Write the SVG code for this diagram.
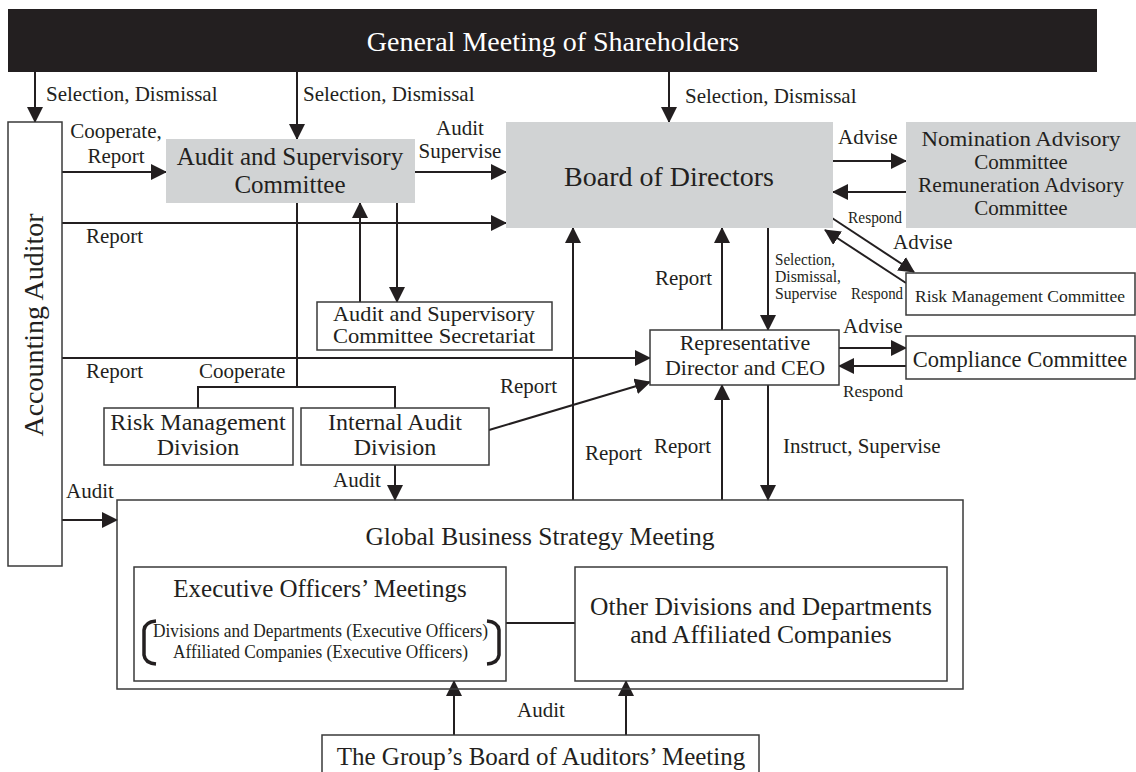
<svg xmlns="http://www.w3.org/2000/svg" width="1136" height="772" viewBox="0 0 1136 772">
<style>
text{font-family:"Liberation Serif","Times New Roman",serif;fill:#231f20}
.m{text-anchor:middle}
.box{fill:#fff;stroke:#3a3a3a;stroke-width:1.5}
.gray{fill:#d1d3d4}
.ln{stroke:#231f20;stroke-width:2;fill:none}
.a{marker-end:url(#ah)}
.l{font-size:21px}
.c{font-size:17px}
</style>
<defs>
<marker id="ah" viewBox="0 0 16 16" markerUnits="userSpaceOnUse" markerWidth="16" markerHeight="16" refX="15" refY="8" orient="auto">
<path d="M0,0 L16,8 L0,16 z" fill="#231f20"/>
</marker>
</defs>
<rect width="1136" height="772" fill="#fff"/>

<g id="connectors">
<path class="ln a" d="M35,72 V122"/>
<path class="ln a" d="M297,72 V139"/>
<path class="ln a" d="M669,72 V122"/>
<path class="ln a" d="M62,172 H166"/>
<path class="ln a" d="M415,172 H506"/>
<path class="ln a" d="M62,223 H506"/>
<path class="ln a" d="M833,161 H906"/>
<path class="ln a" d="M906,192 H833"/>
<path class="ln a" d="M832,218 L914,272"/>
<path class="ln a" d="M906,283 L825,230"/>
<path class="ln a" d="M768,228 V330"/>
<path class="ln a" d="M722,330 V228"/>
<path class="ln a" d="M573,500 V228"/>
<path class="ln a" d="M360,302 V203"/>
<path class="ln a" d="M397,203 V302"/>
<path class="ln a" d="M62,358 H650"/>
<path class="ln" d="M297,203 V387"/>
<path class="ln" d="M198,408 V387 H395 V408"/>
<path class="ln a" d="M489,430 L650,382"/>
<path class="ln a" d="M395,465 V500"/>
<path class="ln a" d="M62,520 H117"/>
<path class="ln a" d="M722,500 V385"/>
<path class="ln a" d="M768,385 V500"/>
<path class="ln a" d="M839,348 H906"/>
<path class="ln a" d="M906,366 H839"/>
<path class="ln" d="M506,623 H575"/>
<path class="ln a" d="M454,735 V681"/>
<path class="ln a" d="M626,735 V681"/>
</g>

<g id="labels">
<text class="l" x="46" y="101">Selection, Dismissal</text>
<text class="l" x="303" y="101">Selection, Dismissal</text>
<text class="l" x="685" y="103">Selection, Dismissal</text>
<text class="l m" x="116" y="138">Cooperate,</text>
<text class="l m" x="116" y="163">Report</text>
<text class="l m" x="460" y="135">Audit</text>
<text class="l m" x="460" y="158">Supervise</text>
<text class="l" x="86" y="243">Report</text>
<text class="l" x="838" y="144">Advise</text>
<text class="c" x="848" y="223" textLength="54" lengthAdjust="spacingAndGlyphs">Respond</text>
<text class="l" x="893" y="249">Advise</text>
<text class="c" x="775" y="265" textLength="60" lengthAdjust="spacingAndGlyphs">Selection,</text>
<text class="c" x="775" y="282" textLength="66" lengthAdjust="spacingAndGlyphs">Dismissal,</text>
<text class="c" x="775" y="299" textLength="62" lengthAdjust="spacingAndGlyphs">Supervise</text>
<text class="c" x="851" y="299" textLength="52" lengthAdjust="spacingAndGlyphs">Respond</text>
<text class="l" x="655" y="285">Report</text>
<text class="l" x="843" y="333">Advise</text>
<text class="c" x="843" y="397" textLength="60" lengthAdjust="spacingAndGlyphs">Respond</text>
<text class="l" x="86" y="378">Report</text>
<text class="l" x="199" y="378">Cooperate</text>
<text class="l" x="500" y="393">Report</text>
<text class="l" x="783" y="453">Instruct, Supervise</text>
<text class="l" x="654" y="453">Report</text>
<text class="l" x="585" y="460">Report</text>
<text class="l" x="333" y="487">Audit</text>
<text class="l" x="66" y="498">Audit</text>
<text class="l m" x="541" y="717">Audit</text>
</g>

<g id="shareholders">
<rect x="8" y="9" width="1089" height="63" fill="#231f20"/>
<text class="m" x="553" y="51" font-size="28" style="fill:#fff">General Meeting of Shareholders</text>
</g>

<g id="accounting-auditor">
<rect class="box" x="8" y="122" width="54" height="444"/>
<text class="m" transform="translate(43,325) rotate(-90)" font-size="28">Accounting Auditor</text>
</g>

<g id="audit-supervisory-committee">
<rect class="gray" x="166" y="139" width="249" height="64"/>
<text class="m" x="290" y="165" font-size="25">Audit and Supervisory</text>
<text class="m" x="290" y="193" font-size="25">Committee</text>
</g>

<g id="board">
<rect class="gray" x="506" y="122" width="327" height="106"/>
<text class="m" x="669" y="186" font-size="28">Board of Directors</text>
</g>

<g id="advisory">
<rect class="gray" x="906" y="122" width="230" height="106"/>
<text class="m" x="1021" y="146" font-size="21" textLength="199" lengthAdjust="spacingAndGlyphs">Nomination Advisory</text>
<text class="m" x="1021" y="169" font-size="21">Committee</text>
<text class="m" x="1021" y="192" font-size="21" textLength="206" lengthAdjust="spacingAndGlyphs">Remuneration Advisory</text>
<text class="m" x="1021" y="215" font-size="21">Committee</text>
</g>

<g id="risk-committee">
<rect class="box" x="906" y="273" width="229" height="42"/>
<text class="m" x="1020" y="302" font-size="17.5">Risk Management Committee</text>
</g>

<g id="secretariat">
<rect class="box" x="317" y="302" width="235" height="48"/>
<text class="m" x="434" y="321" font-size="21" textLength="202" lengthAdjust="spacingAndGlyphs">Audit and Supervisory</text>
<text class="m" x="434" y="343" font-size="21" textLength="202" lengthAdjust="spacingAndGlyphs">Committee Secretariat</text>
</g>

<g id="ceo">
<rect class="box" x="650" y="330" width="189" height="55"/>
<text class="m" x="745" y="350" font-size="22">Representative</text>
<text class="m" x="745" y="375" font-size="22">Director and CEO</text>
</g>

<g id="compliance">
<rect class="box" x="906" y="336" width="229" height="43"/>
<text class="m" x="1020" y="367" font-size="22.5">Compliance Committee</text>
</g>

<g id="risk-division">
<rect class="box" x="104" y="408" width="189" height="57"/>
<text class="m" x="198" y="430" font-size="24">Risk Management</text>
<text class="m" x="198" y="455" font-size="24">Division</text>
</g>

<g id="internal-audit">
<rect class="box" x="301" y="408" width="188" height="57"/>
<text class="m" x="395" y="430" font-size="24">Internal Audit</text>
<text class="m" x="395" y="455" font-size="24">Division</text>
</g>

<g id="global-meeting">
<rect class="box" x="117" y="500" width="846" height="189" style="fill:none"/>
<text class="m" x="540" y="545" font-size="25.5">Global Business Strategy Meeting</text>
</g>

<g id="executive-officers">
<rect class="box" x="134" y="567" width="372" height="114"/>
<text class="m" x="320" y="597" font-size="25">Executive Officers’ Meetings</text>
<text x="153" y="637" font-size="19" textLength="335" lengthAdjust="spacingAndGlyphs">Divisions and Departments (Executive Officers)</text>
<text x="173" y="658" font-size="19" textLength="295" lengthAdjust="spacingAndGlyphs">Affiliated Companies (Executive Officers)</text>
<path d="M156,621 Q145,622 144,630 L144,655 Q145,663 156,664" fill="none" stroke="#231f20" stroke-width="3.5"/>
<path d="M487,621 Q498,622 499,630 L499,655 Q498,663 487,664" fill="none" stroke="#231f20" stroke-width="3.5"/>
</g>

<g id="other-divisions">
<rect class="box" x="575" y="567" width="372" height="114"/>
<text class="m" x="761" y="615" font-size="25.5">Other Divisions and Departments</text>
<text class="m" x="761" y="643" font-size="25.5">and Affiliated Companies</text>
</g>

<g id="group-auditors">
<rect class="box" x="322" y="735" width="437" height="45"/>
<text class="m" x="541" y="765" font-size="25">The Group’s Board of Auditors’ Meeting</text>
</g>
</svg>
